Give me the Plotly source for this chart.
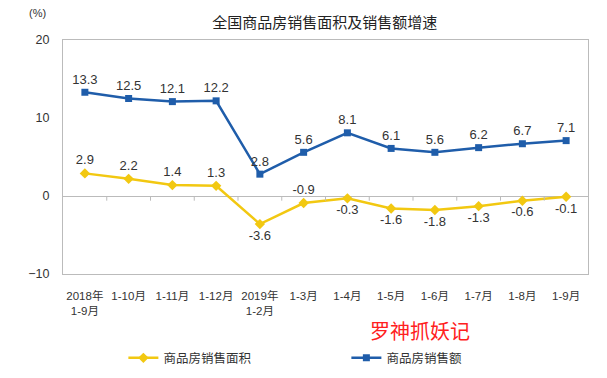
import plotly.graph_objects as go

categories = ["2018年<br>1-9月", "1-10月", "1-11月", "1-12月", "2019年<br>1-2月", "1-3月",
              "1-4月", "1-5月", "1-6月", "1-7月", "1-8月", "1-9月"]
area_growth = [2.9, 2.2, 1.4, 1.3, -3.6, -0.9, -0.3, -1.6, -1.8, -1.3, -0.6, -0.1]
amount_growth = [13.3, 12.5, 12.1, 12.2, 2.8, 5.6, 8.1, 6.1, 5.6, 6.2, 6.7, 7.1]
area_label_pos = ["top center"] * 4 + ["bottom center", "top center"] + ["bottom center"] * 6

YELLOW = "#F2C811"
BLUE = "#1F5DAA"
FONT = "Liberation Sans, Noto Sans CJK SC, sans-serif"

fig = go.Figure()
fig.add_trace(go.Scatter(
    x=list(range(len(categories))), y=area_growth, name="商品房销售面积",
    mode="lines+markers+text", line=dict(color=YELLOW, width=2.5),
    marker=dict(symbol="diamond", size=8, color=YELLOW),
    text=[f"{v:.1f}" for v in area_growth], textposition=area_label_pos,
    textfont=dict(size=13, color="#333333", family=FONT),
))
fig.add_trace(go.Scatter(
    x=list(range(len(categories))), y=amount_growth, name="商品房销售额",
    mode="lines+markers+text", line=dict(color=BLUE, width=2.5),
    marker=dict(symbol="square", size=7, color=BLUE),
    text=[f"{v:.1f}" for v in amount_growth], textposition="top center",
    textfont=dict(size=13, color="#333333", family=FONT),
))

# small tick marks on the zero line at category boundaries
for i in range(1, len(categories)):
    fig.add_shape(type="line", x0=i - 0.5, x1=i - 0.5, y0=0, y1=-0.6,
                  xref="x", yref="y", line=dict(color="#BBBBBB", width=1))

fig.add_annotation(text="(%)", xref="paper", yref="paper", x=-0.048, y=1.115,
                   xanchor="center", yanchor="middle",
                   showarrow=False, font=dict(size=11, color="#333333", family=FONT))
fig.add_annotation(text="罗神抓妖记", xref="paper", yref="paper", x=0.68, y=-0.24,
                   xanchor="center", yanchor="middle",
                   showarrow=False, font=dict(size=20, color="#FF2020", family="Noto Sans CJK SC"))

fig.update_layout(
    width=607, height=378,
    margin=dict(l=63, r=19, t=40, b=104, autoexpand=False),
    paper_bgcolor="white", plot_bgcolor="white",
    title=dict(text="全国商品房销售面积及销售额增速", x=0.535, xanchor="center", y=0.94,
               yanchor="middle", font=dict(size=15, color="#222222", family="Noto Sans CJK SC")),
    showlegend=True,
    legend=dict(orientation="h", x=0.115, y=-0.36, xanchor="left", yanchor="middle",
                entrywidth=178, entrywidthmode="pixels",
                font=dict(size=12.5, color="#333333", family="Noto Sans CJK SC")),
    font=dict(family=FONT, color="#333333"),
)
fig.update_xaxes(
    range=[-0.5, len(categories) - 0.5], tickmode="array",
    tickvals=list(range(len(categories))), ticktext=categories,
    showgrid=False, showline=True, linecolor="#BBBBBB", mirror=True, ticks="",
    ticklabelstandoff=11,
    tickfont=dict(size=11.5, color="#333333", family=FONT), zeroline=False,
)
fig.update_yaxes(
    range=[-10, 20], dtick=10, showgrid=False, showline=True, linecolor="#BBBBBB",
    mirror=True, zeroline=True, zerolinecolor="#BBBBBB", zerolinewidth=1, ticks="",
    ticklabelstandoff=10,
    tickfont=dict(size=12.5, color="#333333", family=FONT),
)

fig.write_html("out.html", config={"displayModeBar": False},
               post_script="document.body.style.margin='0';document.body.style.overflow='hidden';")
